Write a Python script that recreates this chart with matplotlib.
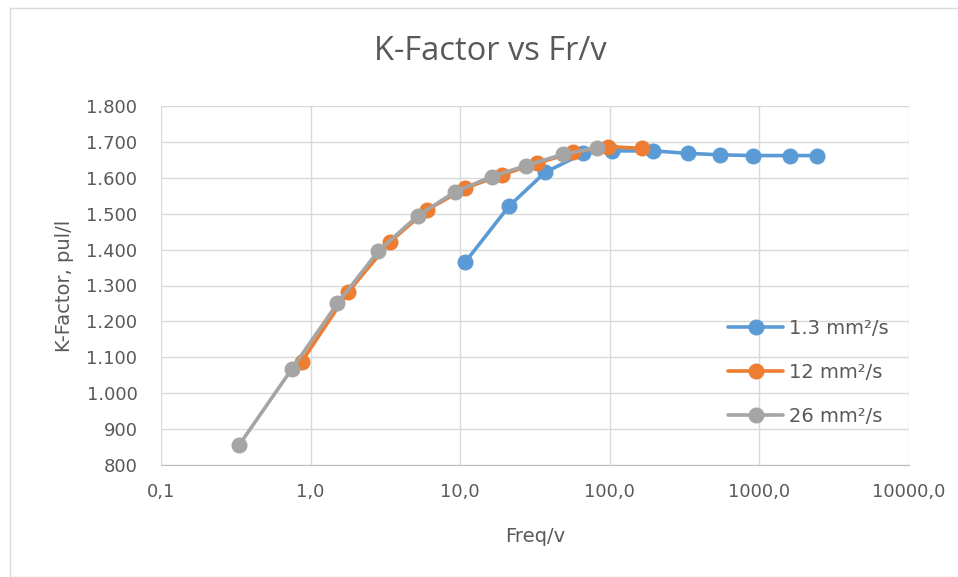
import matplotlib.pyplot as plt
from matplotlib.patches import Rectangle
from matplotlib.ticker import FixedLocator, FuncFormatter, NullLocator

# data
fr_13 = [10.8, 21.2, 36.9, 66.5, 103, 195, 335, 546, 910, 1603, 2415]
k_13 = [1365, 1521, 1615, 1668, 1675, 1675, 1668, 1664, 1662, 1662, 1662]

fr_12 = [0.872, 1.79, 3.40, 5.97, 10.8, 18.9, 32.5, 57.0, 97.8, 163]
k_12 = [1088, 1283, 1422, 1510, 1571, 1608, 1640, 1671, 1687, 1682]

fr_26 = [0.332, 0.748, 1.51, 2.84, 5.20, 9.23, 16.2, 27.5, 48.4, 82.5]
k_26 = [855, 1067, 1250, 1396, 1494, 1561, 1603, 1634, 1665, 1684]

labels = ['1.3 mm²/s', '12 mm²/s', '26 mm²/s']
colors = ['#5B9BD5', '#ED7D31', '#A5A5A5']

x_ticks = [0.1, 1, 10, 100, 1000, 10000]
x_tick_labels = ['0,1', '1,0', '10,0', '100,0', '1000,0', '10000,0']
y_ticks = list(range(800, 1801, 100))

txt = '#595959'
plt.rcParams['font.family'] = ['DejaVu Sans']

fig = plt.figure(figsize=(9.58, 5.77), dpi=100)
fig.patches.append(Rectangle((10 / 958, 0), 1, 1 - 8 / 577, transform=fig.transFigure,
                             fill=False, edgecolor='#D9D9D9', linewidth=1))
ax = fig.add_axes([161 / 958, 1 - 465 / 577, 748 / 958, 359 / 577])

for xs, ys, lab, c in zip([fr_13, fr_12, fr_26], [k_13, k_12, k_26], labels, colors):
    ax.plot(xs, ys, color=c, lw=2.6, marker='o', markersize=10.5, label=lab,
            solid_capstyle='round')

ax.set_xscale('log')
ax.set_xlim(0.1, 10000)
ax.set_ylim(800, 1800)
ax.xaxis.set_major_locator(FixedLocator(x_ticks))
ax.xaxis.set_minor_locator(NullLocator())
ax.set_xticklabels(x_tick_labels)
ax.set_yticks(y_ticks)
ax.yaxis.set_major_formatter(FuncFormatter(lambda v, p: f'{int(v):,}'.replace(',', '.')))

ax.grid(True, color='#D9D9D9', lw=1)
ax.set_axisbelow(True)
for s in ['top', 'right', 'left']:
    ax.spines[s].set_visible(False)
ax.spines['bottom'].set_color('#BFBFBF')
ax.tick_params(length=0, labelsize=13, colors=txt)
ax.tick_params(axis='x', pad=13)
ax.tick_params(axis='y', pad=17)

fig.text(490 / 958, 1 - 51 / 577, 'K-Factor vs Fr/v', fontsize=23.5, color=txt,
         ha='center', va='center', family=['Open Sans', 'DejaVu Sans'])
ax.set_xlabel('Freq/v', fontsize=14, color=txt, labelpad=19)
ax.set_ylabel('K-Factor, pul/l', fontsize=14, color=txt, labelpad=9)

ax.legend(loc='center left', bbox_to_anchor=(0.735, 0.258), frameon=False, fontsize=14,
          labelcolor=txt, handlelength=2.8, labelspacing=1.3, handletextpad=0.3)

fig.savefig('out.png', dpi=100)
